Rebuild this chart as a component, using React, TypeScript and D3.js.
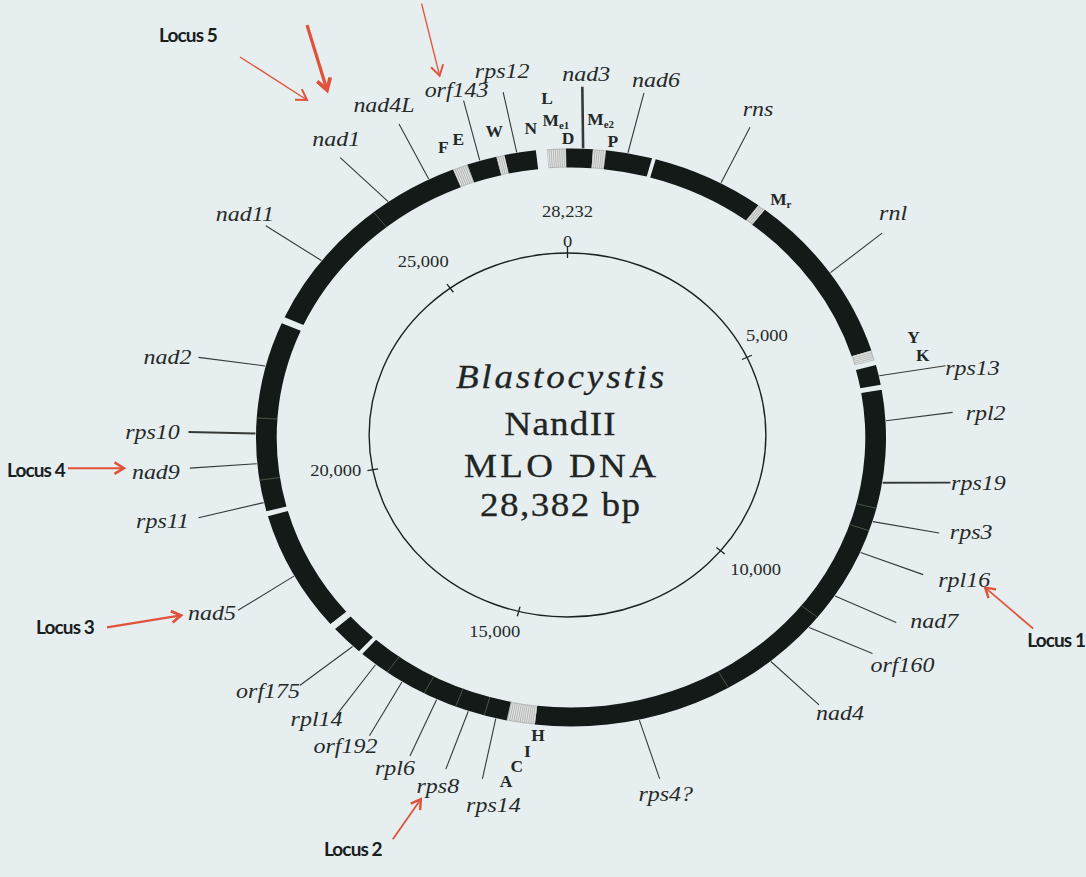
import React, { useEffect, useRef } from "react";
import * as d3 from "d3";

const WIDTH = 1086;
const HEIGHT = 877;

// Genome coordinates (bp) – one full turn of the drawn map
const TURN_BP = 27800;

// Ring blocks (genes = black, tRNA clusters = grey striped)
const BLOCK_START = [26100, 26317, 26742, 26857, 27460, 27730, 309, 494, 1205, 2819, 2934, 5598, 5830, 6216, 14409, 14811, 17166, 17745, 19707, 22750];
const BLOCK_END = [26317, 26742, 26857, 27305, 27730, 309, 494, 1151, 2819, 2934, 5598, 5753, 6139, 14409, 14811, 17104, 17645, 19629, 22650, 26100];
const BLOCK_KIND = ["trna", "gene", "trna", "gene", "trna", "gene", "trna", "gene", "gene", "trna", "gene", "trna", "gene", "gene", "trna", "gene", "gene", "gene", "gene", "gene"];
// visible boundaries between adjacent genes inside a black block
const SEPARATORS = [8046, 8402, 9923, 11583, 15135, 15560, 16046, 16657, 20193, 21151, 24803];

// Protein / rRNA gene labels
const GENE_NAMES = ["nad3", "nad6", "rns", "rnl", "rps13", "rpl2", "rps19", "rps3", "rpl16", "nad7", "orf160", "nad4", "rps4?", "rps14", "rps8", "rpl6", "orf192", "rpl14", "orf175", "nad5", "rps11", "nad9", "rps10", "nad2", "nad11", "nad1", "nad4L", "orf143", "rps12"];
const GENE_POS = [170, 803, 2193, 4270, 6000, 6695, 7645, 8255, 8757, 9514, 10116, 10865, 12934, 14965, 15367, 15846, 16402, 16857, 17282, 18641, 19846, 20448, 20911, 21954, 23761, 25066, 25730, 26502, 27035];
const GENE_LABEL_POS = [131, 849, 2154, 4201, 6039, 6633, 7521, 8170, 8726, 9405, 9884, 10780, 12865, 14934, 15375, 15822, 16355, 16818, 17382, 18572, 19830, 20463, 20919, 21869, 23714, 24935, 25737, 26541, 27011];

// tRNA labels
const TRNA_NAMES = ["F", "E", "W", "N", "L", "M", "D", "M", "P", "M", "Y", "K", "H", "I", "C", "A"];
const TRNA_SUB = ["", "", "", "", "", "e1", "", "e2", "", "r", "", "", "", "", "", ""];
const TRNA_POS = [26100, 26324, 26799, 27274, 27514, 27606, 27761, 378, 571, 3012, 5591, 5853, 14347, 14463, 14564, 14660];
const TRNA_TIER = [0.8, 1, 0.9, 0.7, 2.4, 1.1, 0, 1.2, 0, 0.4, 1.8, 2, 0, 1, 2, 2.95];

// Scale ring
const TICK_VALUES = [0, 5000, 10000, 15000, 20000, 25000];
const TICK_LABELS = ["0", "5,000", "10,000", "15,000", "20,000", "25,000"];
const END_LABEL = "28,232";

const TITLE_LINES = ["Blastocystis", "NandII", "MLO DNA", "28,382 bp"];

const LOCUS_NAMES = ["Locus 1", "Locus 2", "Locus 3", "Locus 4", "Locus 5"];
const LOCUS_TARGETS = [["rpl16"], ["rps8"], ["nad5"], ["nad9"], ["nad4L", "nad4L", "orf143"]];

// ---------------- layout / style ----------------
const BG = "#e7eef0";
const RING_FILL = "#141a17";
const TRNA_FILL = "#b3b8b7";
const TEXT = "#252a28";
const RED = "#e0533a";
const RC = { x: 571, y: 437.5 };
const IC = { x: 567.5, y: 435 };
const SX = 1.09;
const R_OUT = 289;
const R_IN = 270;
const LEADER_R = 351;
const INNER_R = 182;

const LABEL_NUDGE: Record<string, [number, number]> = {
  nad3: [4, -13], nad6: [12, -13], rns: [8, -19], rnl: [11, -20], rps13: [27, 2], rpl2: [33, 0],
  rps19: [28, 0], rps3: [32, -1], rpl16: [41, 5], nad7: [38, -2], orf160: [30, 11], nad4: [21, 8],
  "rps4?": [6, 15], rps14: [11, 26], rps8: [-8, 17], rpl6: [-15, 12], orf192: [-24, 10], rpl14: [-20, 4],
  orf175: [-32, 5], nad5: [-26, 2], rps11: [-36, 3], nad9: [-34, 4], rps10: [-36, 0], nad2: [-31, -1],
  nad11: [-21, -12], nad1: [-4, -19], nad4L: [-15, -19], orf143: [-7, -11], rps12: [-1, -21],
};
const LINE_WIDTH: Record<string, number> = { nad3: 2.6, rps19: 1.9, rps10: 1.9 };
const TICK_NUDGE: [number, number][] = [[0, -12], [20, -22], [35, 18], [-24, 20], [-37, 0], [-27, -27]];
const END_NUDGE: [number, number] = [0, -42];
const TITLE_BASE = [-47, 0, 42, 81];
const TITLE_LEN = [191, 102, 176, 147];

type ArrowSpec = { target: number; tip: [number, number]; tail: [number, number]; w: number; head: number };
const LOCUS_LAYOUT: { arrows: ArrowSpec[]; text: [number, number] }[] = [
  { arrows: [{ target: 0, tip: [21, 8], tail: [69, 49], w: 1.8, head: 11 }], text: [92, 61] },
  { arrows: [{ target: 0, tip: [-17, 13], tail: [-45, 53], w: 1.8, head: 11 }], text: [-85, 63] },
  { arrows: [{ target: 0, tip: [-31, 3], tail: [-105, 15], w: 2.2, head: 11 }], text: [-147, 15] },
  { arrows: [{ target: 0, tip: [-32, -4], tail: [-88, -4], w: 2, head: 11 }], text: [-120, -2] },
  {
    arrows: [
      { target: 0, tip: [-77, -5], tail: [-144, -48], w: 1.4, head: 12 },
      { target: 1, tip: [-57, -15], tail: [-77, -80], w: 3.2, head: 13 },
      { target: 2, tip: [-17, -14], tail: [-35, -86], w: 1.3, head: 12 },
    ],
    text: [-196, -70],
  },
];

export default function App() {
  const ref = useRef<SVGSVGElement>(null);

  useEffect(() => {
    const svg = d3.select(ref.current);
    svg.selectAll("*").remove();

    svg.append("rect").attr("width", WIDTH).attr("height", HEIGHT).attr("fill", BG);

    const angle = d3.scaleLinear().domain([0, TURN_BP]).range([0, 2 * Math.PI]);
    const proj = (bp: number, r: number, c = RC): [number, number] => {
      const a = angle(bp);
      return [c.x + SX * r * Math.sin(a), c.y - r * Math.cos(a)];
    };

    // ---------- ring ----------
    const ringG = svg.append("g").attr("transform", `translate(${RC.x},${RC.y}) scale(${SX},1)`);
    const arc = d3.arc<any>().innerRadius(R_IN).outerRadius(R_OUT);
    const blocks = BLOCK_START.map((s, i) => ({
      s,
      e: BLOCK_END[i] < s ? BLOCK_END[i] + TURN_BP : BLOCK_END[i],
      kind: BLOCK_KIND[i],
    }));
    ringG
      .selectAll("path.block")
      .data(blocks)
      .join("path")
      .attr("class", "block")
      .attr("d", (d) => arc({ startAngle: angle(d.s), endAngle: angle(d.e) }) as string)
      .attr("fill", (d) => (d.kind === "trna" ? TRNA_FILL : RING_FILL));

    const stripeStep = 30;
    const stripes = blocks
      .filter((b) => b.kind === "trna")
      .flatMap((b) => d3.range(b.s + stripeStep / 2, b.e, stripeStep));
    ringG
      .selectAll("line.stripe")
      .data(stripes)
      .join("line")
      .attr("x1", (d) => (R_IN + 1) * Math.sin(angle(d)))
      .attr("y1", (d) => -(R_IN + 1) * Math.cos(angle(d)))
      .attr("x2", (d) => (R_OUT - 1) * Math.sin(angle(d)))
      .attr("y2", (d) => -(R_OUT - 1) * Math.cos(angle(d)))
      .attr("stroke", "#e6e9e8")
      .attr("stroke-width", 1)
      .attr("vector-effect", "non-scaling-stroke");

    ringG
      .selectAll("line.sep")
      .data(SEPARATORS)
      .join("line")
      .attr("x1", (d) => R_IN * Math.sin(angle(d)))
      .attr("y1", (d) => -R_IN * Math.cos(angle(d)))
      .attr("x2", (d) => R_OUT * Math.sin(angle(d)))
      .attr("y2", (d) => -R_OUT * Math.cos(angle(d)))
      .attr("stroke", "#4d5c4b")
      .attr("stroke-width", 0.9)
      .attr("vector-effect", "non-scaling-stroke");

    // ---------- gene leader lines & labels ----------
    const genes = GENE_NAMES.map((name, i) => {
      const p0 = proj(GENE_POS[i], R_OUT + 0.5);
      const p1 = proj(GENE_LABEL_POS[i], LEADER_R);
      const n = LABEL_NUDGE[name] || [0, 0];
      return { name, p0, p1, c: [p1[0] + n[0], p1[1] + n[1]] as [number, number] };
    });
    const centers = new Map(genes.map((g) => [g.name, g.c]));

    svg
      .append("g")
      .selectAll("line")
      .data(genes)
      .join("line")
      .attr("x1", (d) => d.p0[0])
      .attr("y1", (d) => d.p0[1])
      .attr("x2", (d) => d.p1[0])
      .attr("y2", (d) => d.p1[1])
      .attr("stroke", "#353a38")
      .attr("stroke-width", (d) => LINE_WIDTH[d.name] || 1.1);

    svg
      .append("g")
      .selectAll("text")
      .data(genes)
      .join("text")
      .attr("transform", (d) => `translate(${d.c[0]},${d.c[1]}) scale(${SX},1)`)
      .attr("text-anchor", "middle")
      .attr("dy", "0.33em")
      .attr("font-family", "'Liberation Serif', 'Times New Roman', serif")
      .attr("font-style", "italic")
      .attr("font-size", 22)
      .attr("fill", TEXT)
      .text((d) => d.name);

    // ---------- tRNA labels ----------
    const trnas = TRNA_NAMES.map((n, i) => ({
      n,
      sub: TRNA_SUB[i],
      p: proj(TRNA_POS[i], 299 + 17 * TRNA_TIER[i]),
    }));
    const tg = svg
      .append("g")
      .selectAll("text")
      .data(trnas)
      .join("text")
      .attr("transform", (d) => `translate(${d.p[0]},${d.p[1]}) scale(${SX},1)`)
      .attr("text-anchor", "middle")
      .attr("dy", "0.35em")
      .attr("font-family", "'Liberation Serif', 'Times New Roman', serif")
      .attr("font-weight", "bold")
      .attr("font-size", 16)
      .attr("fill", "#222826");
    tg.append("tspan").text((d) => d.n);
    tg.filter((d) => d.sub !== "")
      .append("tspan")
      .attr("font-size", 10)
      .attr("dy", 3)
      .text((d) => d.sub);

    // ---------- inner scale circle ----------
    svg
      .append("ellipse")
      .attr("cx", IC.x)
      .attr("cy", IC.y)
      .attr("rx", INNER_R * SX)
      .attr("ry", INNER_R)
      .attr("fill", "none")
      .attr("stroke", "#1d2220")
      .attr("stroke-width", 1.4);

    svg
      .append("g")
      .selectAll("line")
      .data(TICK_VALUES)
      .join("line")
      .attr("x1", (d) => proj(d, INNER_R - 5, IC)[0])
      .attr("y1", (d) => proj(d, INNER_R - 5, IC)[1])
      .attr("x2", (d) => proj(d, INNER_R + (d === 0 ? 7 : 5), IC)[0])
      .attr("y2", (d) => proj(d, INNER_R + (d === 0 ? 7 : 5), IC)[1])
      .attr("stroke", "#1d2220")
      .attr("stroke-width", 1.3);

    const tickLabels = TICK_VALUES.map((v, i) => {
      const p = proj(v, INNER_R, IC);
      return { t: TICK_LABELS[i], x: p[0] + TICK_NUDGE[i][0], y: p[1] + TICK_NUDGE[i][1] };
    });
    const p0 = proj(0, INNER_R, IC);
    tickLabels.push({ t: END_LABEL, x: p0[0] + END_NUDGE[0], y: p0[1] + END_NUDGE[1] });
    svg
      .append("g")
      .selectAll("text")
      .data(tickLabels)
      .join("text")
      .attr("transform", (d) => `translate(${d.x},${d.y}) scale(${SX},1)`)
      .attr("text-anchor", "middle")
      .attr("dy", "0.35em")
      .attr("font-family", "'Liberation Serif', 'Times New Roman', serif")
      .attr("font-size", 17)
      .attr("fill", "#262b29")
      .text((d) => d.t);

    // ---------- title ----------
    svg
      .append("g")
      .selectAll("text")
      .data(TITLE_LINES)
      .join("text")
      .attr("transform", (d, i) => `translate(${IC.x - 7.5},${IC.y + TITLE_BASE[i]}) scale(${SX},1)`)
      .attr("text-anchor", "middle")
      .attr("font-family", "'Liberation Serif', 'Times New Roman', serif")
      .attr("font-style", (d, i) => (i === 0 ? "italic" : "normal"))
      .attr("font-size", 34)
      .attr("textLength", (d, i) => TITLE_LEN[i])
      .attr("lengthAdjust", "spacing")
      .attr("fill", "#202523")
      .attr("stroke", "#202523")
      .attr("stroke-width", 0.3)
      .text((d) => d);

    // ---------- locus annotations ----------
    const arrowLine = d3.line();
    const locusG = svg.append("g");
    LOCUS_NAMES.forEach((name, i) => {
      const lay = LOCUS_LAYOUT[i];
      lay.arrows.forEach((a) => {
        const base = centers.get(LOCUS_TARGETS[i][a.target])!;
        const tip: [number, number] = [base[0] + a.tip[0], base[1] + a.tip[1]];
        const tail: [number, number] = [base[0] + a.tail[0], base[1] + a.tail[1]];
        const ang = Math.atan2(tip[1] - tail[1], tip[0] - tail[0]);
        const spread = 0.55;
        const h1: [number, number] = [tip[0] - a.head * Math.cos(ang - spread), tip[1] - a.head * Math.sin(ang - spread)];
        const h2: [number, number] = [tip[0] - a.head * Math.cos(ang + spread), tip[1] - a.head * Math.sin(ang + spread)];
        locusG
          .append("path")
          .attr("d", arrowLine([tail, tip])!)
          .attr("stroke", RED)
          .attr("stroke-width", a.w)
          .attr("fill", "none");
        locusG
          .append("path")
          .attr("d", arrowLine([h1, tip, h2])!)
          .attr("stroke", RED)
          .attr("stroke-width", a.w + 0.6)
          .attr("stroke-linejoin", "miter")
          .attr("fill", "none");
      });
      const base = centers.get(LOCUS_TARGETS[i][0])!;
      locusG
        .append("text")
        .attr("x", base[0] + lay.text[0])
        .attr("y", base[1] + lay.text[1])
        .attr("dy", "0.35em")
        .attr("text-anchor", "middle")
        .attr("font-family", "Lato, 'Open Sans', sans-serif")
        .attr("font-weight", "bold")
        .attr("font-size", 19)
        .attr("letter-spacing", -0.9)
        .attr("fill", "#18201e")
        .text(name);
    });
  }, []);

  return (
    <svg
      ref={ref}
      width={WIDTH}
      height={HEIGHT}
      style={{ position: "absolute", left: 0, top: 0, display: "block" }}
    />
  );
}
